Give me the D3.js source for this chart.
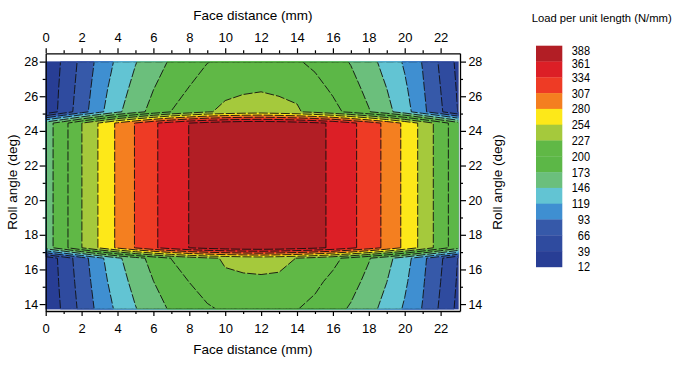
<!DOCTYPE html>
<html><head><meta charset="utf-8">
<script src="https://cdn.jsdelivr.net/npm/d3@7"></script>
<style>body{margin:0;background:#fff} svg{display:block}</style>
</head><body>
<svg id="c" width="679" height="366"></svg>
<script>
// grid nodes (Face distance, mm) and rows (Roll angle, deg)
const faceDistance = [0,1,2,3,4,5,6,7,8,9,10,11,12,13,14,15,16,17,18,19,20,21,22,23];
const rollAngle = [28, 26.4, 25.1, 24.45, 17.25, 16.65, 15.3, 13.7];
// load per unit length (N/mm) read at each node, one row per roll angle
const loadRow28   = [18,43.5,73.5,101.3,124.1,144.6,161.4,176.4,187.8,199.1,204,208.5,211,206.7,202.3,194.6,183.2,171.3,154.7,136.4,115.5,91.5,61.5,31.5];
const loadRow264  = [18,47.2,77.9,107.5,133.2,154.5,172.7,189.4,201.4,213.4,222.8,224.3,225.5,223.8,222.9,208.7,196.5,183.1,165.7,146.3,123.7,95.9,66.1,34.8];
const loadRow251  = [18,50.1,81.4,112.5,140.8,162.6,182,200.5,212.6,225.1,231.2,236.1,239,234.1,229.2,220.1,207.5,192.8,174.8,154.3,130.4,99.5,69.9,37.4];
const loadRow2445 = [160,191.6,226.5,256.8,284.3,308.3,330.1,346.1,361.5,370,377,381,382,380,374,366.5,357.5,339.9,321.5,299.9,274.4,246.2,213.8,181.8];
const loadRow1725 = [160,191.6,226.5,256.8,284.3,308.3,330.1,346.1,361.5,370,377,381,382,380,374,366.5,357.5,339.9,321.5,299.9,274.4,246.2,213.8,181.8];
const loadRow1665 = [18,50.1,81.4,112.5,140.8,162.6,182,200.5,212.6,223,229,234.5,237.5,233,226.5,218,206,192.8,174.8,154.3,130.4,99.5,69.9,37.4];
const loadRow153  = [18,47.2,77.9,107.5,133.2,154.5,172.7,189.4,200.4,211,224,222.6,222.5,223,213.5,205,194.5,182,165.7,146.3,123.7,95.9,66.1,34.8];
const loadRow137  = [18,43.5,73.5,101.3,124.1,144.6,161.4,176.4,187.8,197,203,207.5,209.5,205.5,200.5,194,181.5,170,154.7,136.4,115.5,91.5,61.5,31.5];
const load = [loadRow28, loadRow264, loadRow251, loadRow2445, loadRow1725, loadRow1665, loadRow153, loadRow137];

const levels = [12,39,66,93,119,146,173,200,227,254,280,307,334,361,388];
const bandColors = ["#283e95","#2f4b9f","#3659a9","#3f8fd1","#62c4d3","#6bbf7c","#5cb747","#60b846","#a5c93c","#fde819","#f47f20","#ee3b25","#dc1f26","#b21e25"];
const xTicks = [0,2,4,6,8,10,12,14,16,18,20,22];
const xMinor = [1,3,5,7,9,11,13,15,17,19,21];
const yTicks = [14,16,18,20,22,24,26,28];
const yMinor = [15,17,19,21,23,25,27];
const xTitle = "Face distance (mm)";
const yTitle = "Roll angle (deg)";
const legendTitle = "Load per unit length (N/mm)";

const svg = d3.select("#c");
const FONT = "'Liberation Sans', Arial, sans-serif";
const x = d3.scaleLinear().domain([0, 23.08]).range([45.7, 460]);
const y = d3.scaleLinear().domain([13.6, 28.48]).range([311, 53.3]);

const nx = faceDistance.length, ny = rollAngle.length;
const ix = d3.scaleLinear().domain(d3.range(nx)).range(faceDistance).clamp(true);
const iy = d3.scaleLinear().domain(d3.range(ny)).range(rollAngle).clamp(true);
const polys = d3.contours().size([nx, ny]).thresholds(levels.slice(0, -1))(load.flat());
const proj = d3.geoTransform({point(px, py) { this.stream.point(x(ix(px - 0.5)), y(iy(py - 0.5))); }});
const path = d3.geoPath(proj);

svg.append("g").selectAll("path").data(polys).join("path")
  .attr("d", path).attr("fill", (d, i) => bandColors[i]).attr("stroke", (d, i) => bandColors[i]).attr("stroke-width", 0.3);

const defs = svg.append("defs");
defs.append("clipPath").attr("id", "inner").append("rect")
  .attr("x", x(0) + 1).attr("y", y(28) + 1)
  .attr("width", x(23) - x(0) - 2).attr("height", y(13.7) - y(28) - 2);
svg.append("g").attr("clip-path", "url(#inner)").selectAll("path").data(polys.slice(1)).join("path")
  .attr("d", path).attr("fill", "none").attr("stroke", "#111").attr("stroke-width", 0.9)
  .attr("stroke-dasharray", "9,2");

// axes
function styleAxis(g, size) {
  g.selectAll("text").attr("font-family", FONT).attr("font-size", size).attr("fill", "#000");
  g.selectAll("line").attr("stroke", "#000").attr("stroke-width", 1.2);
  g.select(".domain").attr("stroke", "#000").attr("stroke-width", 1.3);
}
svg.append("g").attr("transform", `translate(0,311)`)
  .call(d3.axisBottom(x).tickValues(xTicks).tickSize(5).tickSizeOuter(0).tickPadding(8)).call(styleAxis, 13);
svg.append("g").attr("transform", `translate(0,311)`)
  .call(d3.axisBottom(x).tickValues(xMinor).tickSize(3).tickFormat("")).call(g => g.select(".domain").remove()).call(styleAxis, 13);
svg.append("g").attr("transform", `translate(0,53.3)`)
  .call(d3.axisTop(x).tickValues(xTicks).tickSize(5).tickSizeOuter(0).tickPadding(6.6)).call(styleAxis, 13);
svg.append("g").attr("transform", `translate(0,53.3)`)
  .call(d3.axisTop(x).tickValues(xMinor).tickSize(3).tickFormat("")).call(g => g.select(".domain").remove()).call(styleAxis, 13);
svg.append("g").attr("transform", `translate(45.7,0)`)
  .call(d3.axisLeft(y).tickValues(yTicks).tickSize(6).tickSizeOuter(0).tickPadding(1.6)).call(styleAxis, 12.5);
svg.append("g").attr("transform", `translate(45.7,0)`)
  .call(d3.axisLeft(y).tickValues(yMinor).tickSize(3).tickFormat("")).call(g => g.select(".domain").remove()).call(styleAxis, 12.5);
svg.append("g").attr("transform", `translate(460,0)`)
  .call(d3.axisRight(y).tickValues(yTicks).tickSize(6).tickSizeOuter(0).tickPadding(2.4)).call(styleAxis, 12.5);
svg.append("g").attr("transform", `translate(460,0)`)
  .call(d3.axisRight(y).tickValues(yMinor).tickSize(3).tickFormat("")).call(g => g.select(".domain").remove()).call(styleAxis, 12.5);

// titles
const cx = (x.range()[0] + x.range()[1]) / 2;
svg.append("text").attr("x", cx).attr("y", 19.8).attr("text-anchor", "middle")
  .attr("font-family", FONT).attr("font-size", 13.5).text(xTitle);
svg.append("text").attr("x", cx).attr("y", 354).attr("text-anchor", "middle")
  .attr("font-family", FONT).attr("font-size", 13.5).text(xTitle);
const cy = (y.range()[0] + y.range()[1]) / 2;
svg.append("text").attr("transform", `translate(12,${cy}) rotate(-90)`).attr("dy", "0.35em")
  .attr("text-anchor", "middle").attr("font-family", FONT).attr("font-size", 13.5).text(yTitle);
svg.append("text").attr("transform", `translate(497,${cy}) rotate(-90)`).attr("dy", "0.35em")
  .attr("text-anchor", "middle").attr("font-family", FONT).attr("font-size", 13.5).text(yTitle);

// legend
const lev = levels.slice().reverse();
const ly = d3.scalePoint().domain(lev).range([45.7, 266.9]);
const lg = svg.append("g");
lg.selectAll("rect").data(lev.slice(0, -1)).join("rect")
  .attr("x", 536).attr("width", 26.3)
  .attr("y", d => ly(d)).attr("height", (d, i) => ly(lev[i + 1]) - ly(d) + 0.3)
  .attr("fill", (d, i) => bandColors[bandColors.length - 1 - i]);
lg.selectAll("text").data(lev).join("text")
  .attr("x", 590).attr("y", (d, i) => i === 0 ? ly(d) + 4.5 : (i === 1 ? ly(d) + 1.5 : ly(d))).attr("dy", "0.36em")
  .attr("text-anchor", "end")
  .attr("font-family", "'Liberation Sans Narrow', 'Arial Narrow', " + FONT).attr("font-size", 12.5)
  .attr("textLength", d => String(d).length * 6.1).attr("lengthAdjust", "spacingAndGlyphs")
  .text(d => d);
svg.append("text").attr("x", 601.7).attr("y", 22).attr("text-anchor", "middle")
  .attr("font-family", FONT).attr("font-size", 11.2).attr("textLength", 140).attr("lengthAdjust", "spacingAndGlyphs")
  .text(legendTitle);
</script>
</body></html>
